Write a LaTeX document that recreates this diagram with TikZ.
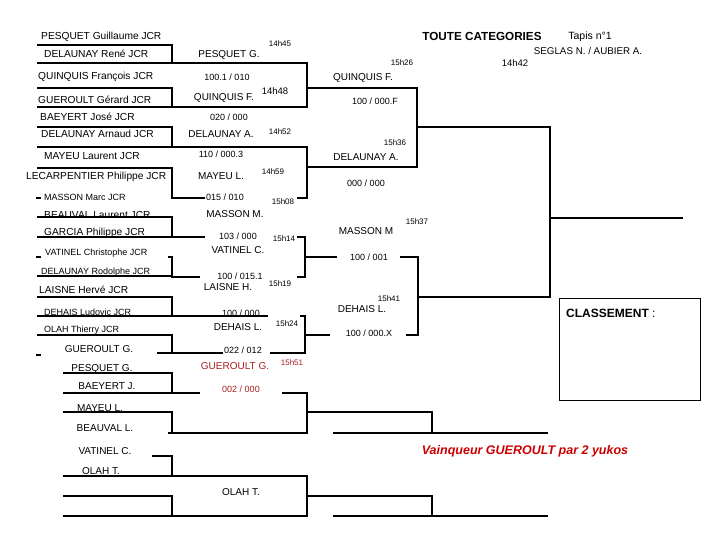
\documentclass[tikz,border=0pt]{standalone}
\usepackage{fontspec}
\setmainfont{Liberation Sans}
\definecolor{dred}{RGB}{170,30,30}
\definecolor{vred}{RGB}{204,0,0}
\tikzset{
  br/.style={line width=2.8pt, line join=miter},
  thinbr/.style={line width=1.2pt},
  nm/.style={anchor=west, inner sep=0pt, font=\fontsize{10.2}{11}\selectfont},
  nms/.style={anchor=west, inner sep=0pt, font=\fontsize{9}{10}\selectfont},
  win/.style={inner sep=0pt, font=\fontsize{10}{11}\selectfont},
  sc/.style={inner sep=0pt, font=\fontsize{9}{10}\selectfont},
  tm/.style={inner sep=0pt, font=\fontsize{8}{9}\selectfont},
  tmb/.style={inner sep=0pt, font=\fontsize{9.5}{10}\selectfont},
}
\begin{document}
\begin{tikzpicture}[x=1pt,y=-1pt]
\useasboundingbox (0,0) rectangle (720,540);
% ---------- bracket lines, group A ----------
\draw[br] (37,45) -- (172,45) -- (172,63);
\draw[br] (37,63) -- (307,63) -- (307,107) -- (37,107);
\draw[br] (37,88) -- (172,88) -- (172,107);
\draw[br] (307,88) -- (417,88) -- (417,167) -- (307,167);
\draw[br] (417,127) -- (550,127) -- (550,297) -- (418,297);
\draw[br] (37,127) -- (172,127) -- (172,147);
\draw[br] (37,147) -- (307,147) -- (307,198) -- (297,198);
\draw[br] (37,168) -- (172,168) -- (172,198) -- (205,198);
\draw[br] (36,198) -- (41,198);
% ---------- group B ----------
\draw[thinbr] (37,217) -- (172,217);
\draw[br] (172,216) -- (172,237);
\draw[br] (37,237) -- (205,237);
\draw[br] (297,237) -- (305,237) -- (305,277) -- (297,277);
\draw[br] (168,257) -- (172,257) -- (172,277) -- (200,277);
\draw[br] (36,257) -- (41,257);
\draw[thinbr] (37,276) -- (172,276);
\draw[br] (305,257) -- (337,257);
\draw[br] (400,257) -- (418,257) -- (418,335) -- (406,335);
\draw[br] (305,335) -- (330,335);
\draw[br] (37,297) -- (172,297) -- (172,316);
\draw[br] (37,316) -- (268,316);
\draw[br] (300,316) -- (305,316) -- (305,353) -- (270,353);
\draw[br] (223,353) -- (157,353);
\draw[br] (37,335) -- (172,335) -- (172,353);
\draw[br] (36,355) -- (41,355);
% ---------- group C ----------
\draw[br] (63,373) -- (172,373) -- (172,393);
\draw[br] (63,393) -- (200,393);
\draw[br] (282,393) -- (307,393) -- (307,433) -- (168,433);
\draw[br] (63,412) -- (172,412) -- (172,433);
\draw[br] (307,412) -- (432,412) -- (432,433);
\draw[br] (333,433) -- (548,433);
\draw[br] (152,456) -- (172,456) -- (172,476);
\draw[br] (63,476) -- (307,476) -- (307,516) -- (63,516);
\draw[br] (63,496) -- (172,496) -- (172,516);
\draw[br] (307,496) -- (432,496) -- (432,516);
\draw[br] (333,516) -- (548,516);
% ---------- centre ----------
\draw[br] (549,218) -- (683,218);
\draw[line width=0.9pt] (559,298) rectangle (700,400);
% ---------- header ----------
\node[inner sep=0pt, font=\fontsize{11.7}{12}\selectfont\bfseries] (title) at (482,36) {TOUTE CATEGORIES};
\node[inner sep=0pt, font=\fontsize{10.5}{11}\selectfont] (tapis) at (590,37) {Tapis n°1};
\node[inner sep=0pt, font=\fontsize{9.8}{10}\selectfont] (arb) at (588,51) {SEGLAS N. / AUBIER A.};
\node[tmb] (t1442) at (515,63) {14h42};
% ---------- names ----------
\node[nm] (n1) at (41,37) {PESQUET Guillaume JCR};
\node[nm] (n2) at (44,54) {DELAUNAY René JCR};
\node[nm] (n3) at (38,77) {QUINQUIS François JCR};
\node[nm] (n4) at (38,100) {GUEROULT Gérard JCR};
\node[nm] (n5) at (40,117) {BAEYERT José JCR};
\node[nm] (n6) at (41,134) {DELAUNAY Arnaud JCR};
\node[nm] (n7) at (44,156) {MAYEU Laurent JCR};
\node[nm] (n8) at (26,177) {LECARPENTIER Philippe JCR};
\node[nms] (n9) at (44,197) {MASSON Marc JCR};
\node[nm] (n10) at (44,215) {BEAUVAL Laurent JCR};
\node[nm] (n11) at (44,233) {GARCIA Philippe JCR};
\node[nms] (n12) at (45,253) {VATINEL Christophe JCR};
\node[nms] (n13) at (41,272) {DELAUNAY Rodolphe JCR};
\node[nm] (n14) at (39,290) {LAISNE Hervé JCR};
\node[nms] (n15) at (44,312) {DEHAIS Ludovic JCR};
\node[nms] (n16) at (44,330) {OLAH Thierry JCR};
\node[win] (m1) at (99,349) {GUEROULT G.};
\node[win] (m2) at (102,369) {PESQUET G.};
\node[win] (m3) at (107,386) {BAEYERT J.};
\node[win] (m4) at (100,408) {MAYEU L.};
\node[win] (m5) at (105,428) {BEAUVAL L.};
\node[win] (m6) at (105,451) {VATINEL C.};
\node[win] (m7) at (101,471) {OLAH T.};
\node[win] (m8) at (241,492) {OLAH T.};
% ---------- round 2 labels ----------
\node[tm] (a1) at (280,44) {14h45};
\node[win] (a2) at (229,55) {PESQUET G.};
\node[sc] (a3) at (227,77) {100.1 / 010};
\node[win] (a4) at (224,98) {QUINQUIS F.};
\node[tmb] (a5) at (275,91) {14h48};
\node[sc] (a6) at (229,117) {020 / 000};
\node[win] (a7) at (221,134) {DELAUNAY A.};
\node[tm] (a8) at (280,132) {14h52};
\node[sc] (a9) at (221,154) {110 / 000.3};
\node[win] (a10) at (221,176) {MAYEU L.};
\node[tm] (a11) at (273,172) {14h59};
\node[sc] (a12) at (225,197) {015 / 010};
\node[tm] (a13) at (283,202) {15h08};
\node[win] (a14) at (235,214) {MASSON M.};
\node[sc] (a15) at (238,236) {103 / 000};
\node[tm] (a16) at (284,239) {15h14};
\node[win] (a17) at (238,250) {VATINEL C.};
\node[sc] (a18) at (240,276) {100 / 015.1};
\node[win] (a19) at (228,287) {LAISNE H.};
\node[tm] (a20) at (280,284) {15h19};
\node[sc] (a21) at (241,313) {100 / 000};
\node[win] (a22) at (238,327) {DEHAIS L.};
\node[tm] (a23) at (287,324) {15h24};
\node[sc] (a24) at (243,350) {022 / 012};
\node[win, text=dred] (a25) at (235,366) {GUEROULT G.};
\node[tm, text=dred] (a26) at (292,363) {15h51};
\node[sc, text=dred] (a27) at (241,389) {002 / 000};
% ---------- round 3 labels ----------
\node[win] (b1) at (363,78) {QUINQUIS F.};
\node[tm] (b2) at (402,63) {15h26};
\node[sc] (b3) at (375,101) {100 / 000.F};
\node[tm] (b4) at (395,143) {15h36};
\node[win] (b5) at (366,157) {DELAUNAY A.};
\node[sc] (b6) at (366,183) {000 / 000};
\node[win] (b7) at (366,231) {MASSON M};
\node[tm] (b8) at (417,222) {15h37};
\node[sc] (b9) at (369,257) {100 / 001};
\node[tm] (b10) at (389,299) {15h41};
\node[win] (b11) at (362,309) {DEHAIS L.};
\node[sc] (b12) at (369,333) {100 / 000.X};
% ---------- classement & winner ----------
\node[anchor=west, inner sep=0pt, font=\fontsize{12}{13}\selectfont] (cl) at (566,313) {\textbf{CLASSEMENT} :};
\node[inner sep=0pt, text=vred, font=\fontsize{12.5}{13}\selectfont\bfseries\itshape] (vq) at (525,451) {Vainqueur GUEROULT par 2 yukos};
\end{tikzpicture}
\end{document}
